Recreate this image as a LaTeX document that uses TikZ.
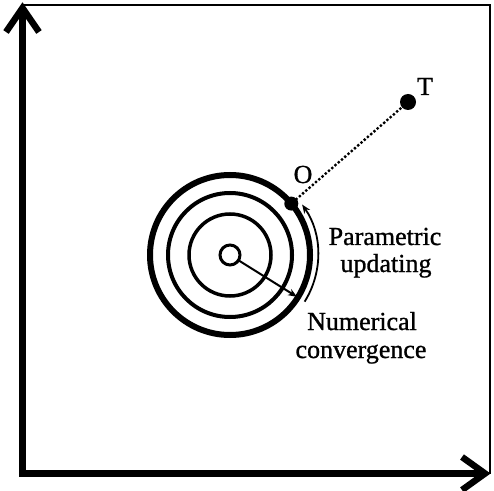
\documentclass[tikz,border=0pt]{standalone}
\usepackage{fontspec}
\setmainfont[FakeBold=1]{Liberation Serif}
\usetikzlibrary{arrows.meta}
\begin{document}
\begin{tikzpicture}[x=1pt,y=1pt,
  axisline/.style={line width=6.5pt, line join=miter, line cap=butt},
  frameline/.style={line width=1.6pt},
  ring/.style={draw, circle, inner sep=0pt, outer sep=0pt, line width=#1},
  lbl/.style={font=\fontsize{26}{28}\selectfont, inner sep=0pt, anchor=base},
  dotpt/.style={circle, fill, inner sep=0pt, outer sep=0pt, minimum size=#1},
  dotline/.style={line width=3.3pt, line cap=round, dash pattern=on 0pt off 4.3pt},
  arrowline/.style={line width=2pt, -{Stealth[length=9pt,width=7pt]}},
]
\useasboundingbox (0,0) rectangle (494,490);
% axes
\coordinate (origin) at (22.5,16.5);
\coordinate (vtip) at (22.5,482);
\coordinate (vl) at (6,458);
\coordinate (vr) at (39,458);
\coordinate (htip) at (485,16.5);
\coordinate (hu) at (462,33);
\coordinate (hd) at (462,0);
\coordinate (tr) at (490,485);
\coordinate (tl) at (22.5,485);
\coordinate (br) at (490,16.5);
\draw[frameline] (tl) -- (tr) -- (br);
\draw[axisline] (vtip) -- (origin) -- (htip);
\draw[axisline] (vl) -- (vtip) -- (vr);
\draw[axisline] (hu) -- (htip) -- (hd);
% rings
\coordinate (c) at (230,235);
\node[ring=6pt, minimum size=160pt] (r4) at (c) {};
\node[ring=4pt, minimum size=124pt] (r3) at (c) {};
\node[ring=3.5pt, minimum size=82pt] (r2) at (c) {};
\node[ring=3pt, minimum size=20pt] (s) at (c) {};
% points
\node[dotpt=14pt] (O) at (r4.40) {};
\node[dotpt=16pt] (T) at (408,388) {};
\draw[dotline] (O) -- (T);
\node[lbl] (Olbl) at (303,307) {O};
\node[lbl] (Tlbl) at (425,395) {T};
% radial arrow
\coordinate (rtip) at ([shift={(-32:79)}]c);
\draw[line width=2pt, -{Stealth[length=9pt,width=7pt]}] (s.-32) -- (rtip);
% arc arrow
\coordinate (arcstart) at ([shift={(-32:88)}]c);
\draw[arrowline, line width=1.8pt] (arcstart) arc[start angle=-32, end angle=35, radius=88];
% texts
\node[lbl] (p1) at (385,245) {Parametric};
\node[lbl] (p2) at (386,218) {updating};
\node[lbl] (n1) at (362,160) {Numerical};
\node[lbl] (n2) at (361,132) {convergence};
\end{tikzpicture}
\end{document}
